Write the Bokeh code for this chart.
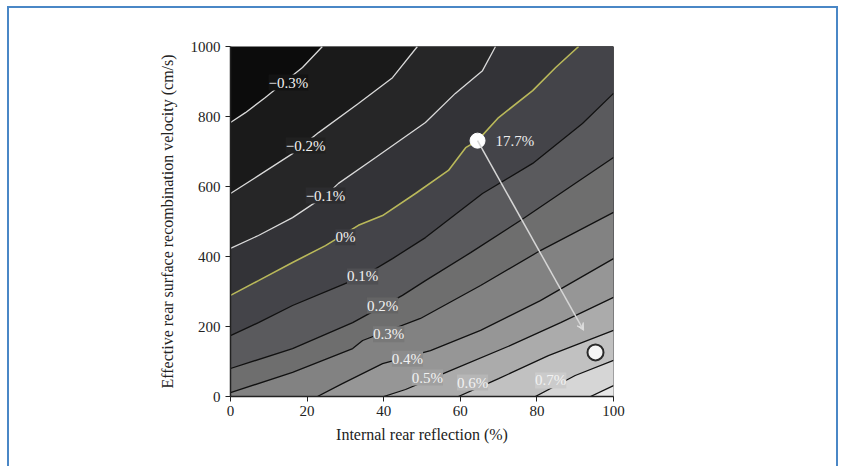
from bokeh.plotting import figure
from bokeh.models import Arrow, VeeHead, ColumnDataSource
from bokeh.core.properties import value
from bokeh.embed import file_html
from bokeh.resources import INLINE

# ---------------- data ----------------
levels = [-0.3, -0.2, -0.1, 0.0, 0.1, 0.2, 0.3, 0.4, 0.5, 0.6, 0.7, 0.8]
level_labels = ["\u22120.3%", "\u22120.2%", "\u22120.1%", "0%", "0.1%", "0.2%",
                "0.3%", "0.4%", "0.5%", "0.6%", "0.7%", ""]

# contour lines: internal rear reflection (%) vs rear recombination velocity (cm/s)
c_m03_x = [0, 3.9, 9.1, 14, 18.8, 24]
c_m03_y = [783, 811, 854, 898, 940, 1000]
c_m02_x = [0, 7.3, 16.2, 23, 33.4, 42.3, 48.8]
c_m02_y = [580, 631, 694, 754, 837, 911, 1000]
c_m01_x = [0, 7.3, 16.2, 24.8, 28.2, 37.9, 50.9, 58.7, 65.8, 69.2]
c_m01_y = [423, 460, 511, 574, 609, 683, 783, 866, 931, 1000]
c_000_x = [0, 7.3, 16.2, 24.8, 33.4, 39.7, 48.3, 56.9, 61.4, 64.5, 70, 78.9, 84.9, 90.9]
c_000_y = [289, 331, 383, 431, 489, 517, 580, 646, 711, 731, 797, 874, 940, 1000]
c_p01_x = [0, 7.3, 16.2, 27.4, 34.5, 42.3, 50.9, 65.8, 78.9, 91.9, 100]
c_p01_y = [174, 211, 260, 311, 343, 394, 454, 580, 666, 780, 866]
c_p02_x = [0, 16.2, 31.9, 44.9, 50.9, 62.7, 75.7, 88.8, 100]
c_p02_y = [80, 137, 211, 289, 331, 411, 503, 600, 683]
c_p03_x = [0, 16.2, 31.9, 34.5, 49.6, 65.3, 80.9, 100]
c_p03_y = [11, 69, 137, 160, 223, 317, 417, 526]
c_p04_x = [22.7, 29.2, 39.7, 52.2, 65.3, 80.9, 100]
c_p04_y = [0, 37, 94, 131, 189, 274, 394]
c_p05_x = [40, 45.7, 57.4, 73.1, 86.2, 100]
c_p05_y = [0, 20, 74, 146, 211, 283]
c_p06_x = [59.5, 70, 83, 100]
c_p06_y = [0, 51, 117, 189]
c_p07_x = [79.6, 90, 100]
c_p07_y = [0, 60, 103]
c_p08_x = [94, 100]
c_p08_y = [0, 31]

contour_xs = [c_m03_x, c_m02_x, c_m01_x, c_000_x, c_p01_x, c_p02_x,
              c_p03_x, c_p04_x, c_p05_x, c_p06_x, c_p07_x, c_p08_x]
contour_ys = [c_m03_y, c_m02_y, c_m01_y, c_000_y, c_p01_y, c_p02_y,
              c_p03_y, c_p04_y, c_p05_y, c_p06_y, c_p07_y, c_p08_y]

# label positions of the contour labels
label_x = [15.1, 19.6, 24.8, 30.0, 34.5, 39.7, 41.3, 46.2, 51.4, 63.2, 83.6]
label_y = [897, 717, 574, 455, 343, 260, 178, 108, 54, 40, 46]

# highlighted design points
point_a_x, point_a_y = 64.5, 731
point_a_text = "17.7%"
point_b_x, point_b_y = 95.3, 126
arrow_end_x, arrow_end_y = 92.2, 189

x_ticks = [0, 20, 40, 60, 80, 100]
y_ticks = [0, 200, 400, 600, 800, 1000]

# ---------------- styling ----------------
band_colors = ["#0c0c0c", "#1a1a1a", "#262627", "#333337", "#444449", "#5a5a5d",
               "#6e6e6e", "#828282", "#969696", "#ababab", "#c1c1c1", "#d6d6d6", "#e8e8e8"]
line_colors = ["#d9d9d9"] * 3 + ["#b9b85a"] + ["#111111"] * 8
line_widths = [1.3] * 3 + [1.6] + [1.3] * 8
FONT = "Liberation Serif"

X0, X1, Y0, Y1 = 0, 100, 0, 1000

p = figure(x_range=(X0, X1), y_range=(Y0, Y1),
           frame_width=383, frame_height=350,
           min_border_left=221, min_border_right=223,
           min_border_top=38, min_border_bottom=70,
           toolbar_location=None, output_backend="svg",
           background_fill_color=band_colors[0],
           border_fill_color="white", outline_line_color=None)
p.styles = {"margin-left": "7px", "margin-top": "6px",
            "border-top": "2px solid #4a87c6",
            "border-left": "2px solid #4a87c6",
            "border-right": "2px solid #4a87c6"}

# filled bands: region on the high-value side (lower right) of each contour
band_xs, band_ys, band_fill = [], [], []
for i, (xs, ys) in enumerate(zip(contour_xs, contour_ys)):
    px, py = list(xs), list(ys)
    if py[-1] >= Y1 and px[-1] < X1:
        px.append(X1); py.append(Y1)
    px.append(X1); py.append(Y0)
    if px[0] <= X0 and py[0] > Y0:
        px.append(X0); py.append(Y0)
    band_xs.append(px); band_ys.append(py)
    band_fill.append(band_colors[i + 1])
p.patches(band_xs, band_ys, fill_color=band_fill, line_color=None)

# contour lines
p.multi_line(contour_xs, contour_ys, line_color=line_colors, line_width=line_widths)

# contour labels
def mix(c1, c2):
    a = [int(c1[k:k + 2], 16) for k in (1, 3, 5)]
    b = [int(c2[k:k + 2], 16) for k in (1, 3, 5)]
    return "#%02x%02x%02x" % tuple((u + v) // 2 for u, v in zip(a, b))

n_lab = len(label_x)
lab_src = ColumnDataSource(dict(
    x=label_x, y=label_y, text=level_labels[:n_lab],
    bg=[mix(band_colors[i], band_colors[i + 1]) for i in range(n_lab)]))
p.text(x="x", y="y", text="text", source=lab_src,
       text_font=value(FONT), text_font_size="15px", text_color="#f2f2f2",
       text_align="center", text_baseline="middle",
       background_fill_color="bg", padding=0)

# arrow and points
p.add_layout(Arrow(end=VeeHead(size=7, line_color="#dddddd", fill_color="#dddddd", line_width=1),
                   x_start=point_a_x, y_start=point_a_y,
                   x_end=arrow_end_x, y_end=arrow_end_y,
                   line_color="#d6d6d6", line_width=1.5))
p.scatter([point_a_x], [point_a_y], size=15, fill_color="white", line_color="white")
p.scatter([point_b_x], [point_b_y], size=16, fill_color="#f5f5f5",
          line_color="#2a2a2a", line_width=2)
p.text([point_a_x + 4.7], [point_a_y], text=[point_a_text],
       text_font=value(FONT), text_font_size="15px", text_color="#eeeeee",
       text_align="left", text_baseline="middle")

# axes
p.xgrid.visible = False
p.ygrid.visible = False
for ax, ticks in ((p.xaxis, x_ticks), (p.yaxis, y_ticks)):
    ax.ticker = ticks
    ax.ticker.num_minor_ticks = 2
    ax.axis_line_color = "#222222"
    ax.axis_line_width = 1.5
    ax.major_tick_line_color = "#222222"
    ax.minor_tick_line_color = "#222222"
    ax.major_tick_out = 5
    ax.major_tick_in = 0
    ax.minor_tick_out = 3
    ax.minor_tick_in = 0
    ax.major_label_text_font = FONT
    ax.major_label_text_font_size = "15px"
    ax.major_label_text_color = "#222222"
    ax.axis_label_text_font = FONT
    ax.axis_label_text_font_size = "16px"
    ax.axis_label_text_font_style = "normal"
    ax.axis_label_text_color = "#222222"
p.xaxis.axis_label = "Internal rear reflection (%)"
p.yaxis.axis_label = "Effective rear surface recombination velocity (cm/s)"
p.xaxis.major_label_standoff = 4
p.xaxis.axis_label_standoff = 7
p.yaxis.major_label_standoff = 5
p.yaxis.axis_label_standoff = 12

open("out.html", "w").write(file_html(p, INLINE))
